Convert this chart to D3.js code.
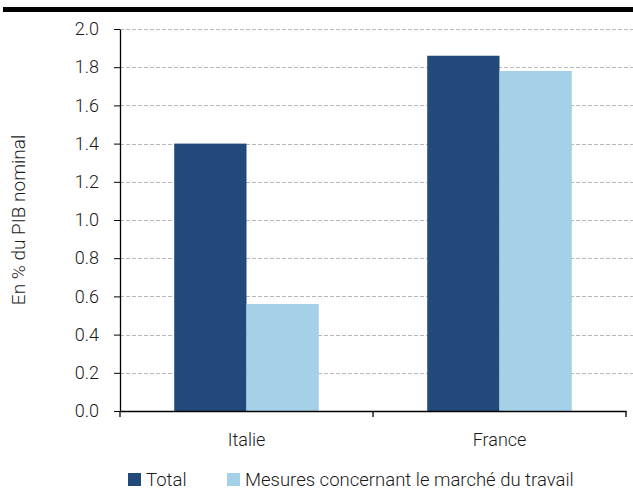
<!DOCTYPE html>
<html>
<head>
<meta charset="utf-8">
<script src="https://cdn.jsdelivr.net/npm/d3@7"></script>
<style>
  html, body { margin: 0; padding: 0; background: #fff; }
  svg text { font-family: "Roboto", sans-serif; font-weight: 300; fill: #1a1a1a; }
</style>
</head>
<body>
<svg id="chart" width="633" height="491"></svg>
<script>
// Data: fiscal measures, % of nominal GDP
const categories = ["Italie", "France"];
const seriesNames = ["Total", "Mesures concernant le marché du travail"];
const totalValues = [1.40, 1.86];
const laborValues = [0.56, 1.78];
const yTicks = [0, 0.2, 0.4, 0.6, 0.8, 1.0, 1.2, 1.4, 1.6, 1.8, 2.0];
const colors = ["#214a7b", "#a4d0e8"];

const svg = d3.select("#chart");
const margin = { left: 120, right: 7, top: 29, bottom: 80 };
const W = 633, H = 491;
const FONT = "Roboto, sans-serif";

// top rule
svg.append("rect").attr("x", 3).attr("y", 7).attr("width", W - 3).attr("height", 5).attr("fill", "#000");

const x = d3.scaleBand().domain(categories).range([margin.left, W - margin.right]).paddingInner(0).paddingOuter(0);
const x1 = d3.scaleBand().domain(seriesNames).range([0, x.bandwidth()]).paddingInner(0).paddingOuter(0.75);
const y = d3.scaleLinear().domain([0, 2.0]).range([H - margin.bottom, margin.top]);

// gridlines
svg.append("g").selectAll("line").data(yTicks.filter(d => d > 0)).join("line")
  .attr("x1", margin.left).attr("x2", W)
  .attr("y1", d => Math.round(y(d)) + 0.5).attr("y2", d => Math.round(y(d)) + 0.5)
  .attr("stroke", "#b8b8b8").attr("stroke-width", 1).attr("stroke-dasharray", "4,2");

// bars
const rows = categories.map((c, i) => ({ cat: c, vals: [totalValues[i], laborValues[i]] }));
const groups = svg.append("g").selectAll("g").data(rows).join("g")
  .attr("transform", d => `translate(${x(d.cat)},0)`);
groups.selectAll("rect").data(d => d.vals.map((v, j) => ({ name: seriesNames[j], v, j }))).join("rect")
  .attr("x", d => x1(d.name)).attr("width", x1.bandwidth())
  .attr("y", d => y(d.v)).attr("height", d => y(0) - y(d.v))
  .attr("fill", d => colors[d.j]);

// y axis
const yAxis = d3.axisLeft(y).tickValues(yTicks).tickFormat(d3.format(".1f")).tickSize(6).tickSizeOuter(0);
const gy = svg.append("g").attr("transform", `translate(${margin.left},0)`).call(yAxis);
gy.select(".domain").attr("stroke", "#000").attr("stroke-width", 1.3);
gy.selectAll(".tick line").attr("stroke", "#000");
gy.selectAll(".tick text").attr("x", -21).attr("font-size", 18).style("font-family", FONT).style("font-weight", 300).attr("fill", "#1a1a1a");

// x axis
const xAxis = d3.axisBottom(x).tickSize(0).tickSizeOuter(0);
const gx = svg.append("g").attr("transform", `translate(0,${y(0)})`).call(xAxis);
gx.select(".domain").attr("stroke", "#000").attr("stroke-width", 1.3);
gx.selectAll(".tick text").attr("y", 22).attr("font-size", 18).style("font-family", FONT).style("font-weight", 300).attr("fill", "#1a1a1a");
// category separators
const seps = [x.range()[0], ...categories.map(c => x(c) + x.bandwidth())];
gx.append("g").selectAll("line").data(seps).join("line")
  .attr("x1", d => d).attr("x2", d => d).attr("y1", 0).attr("y2", 6)
  .attr("stroke", "#000").attr("stroke-width", 1.3);

// y title
svg.append("text").attr("transform", `translate(25,${(margin.top + y(0)) / 2}) rotate(-90)`)
  .attr("text-anchor", "middle").attr("font-size", 19).text("En % du PIB nominal");

// legend
const legend = svg.append("g");
const legendX = [128, 227];
seriesNames.forEach((n, i) => {
  legend.append("rect").attr("x", legendX[i]).attr("y", 473).attr("width", 13).attr("height", 13).attr("fill", colors[i]);
  legend.append("text").attr("x", legendX[i] + 18).attr("y", 486).attr("font-size", 18.5).text(n);
});
</script>
</body>
</html>
